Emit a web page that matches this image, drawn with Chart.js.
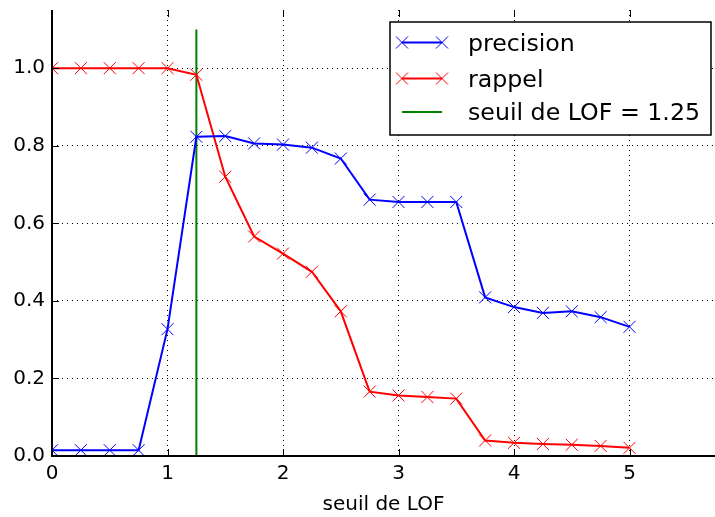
<!DOCTYPE html>
<html>
<head>
<meta charset="utf-8">
<script src="https://cdn.jsdelivr.net/npm/chart.js@4"></script>
<style>
  html, body { margin: 0; padding: 0; background: #fff; }
  #wrap { width: 715px; height: 517px; }
</style>
</head>
<body>
<div id="wrap"><canvas id="lofChart" width="715" height="517"></canvas></div>
<script>
// seuils de LOF
const seuils = [0, 0.25, 0.5, 0.75, 1, 1.25, 1.5, 1.75, 2, 2.25, 2.5, 2.75, 3, 3.25, 3.5, 3.75, 4, 4.25, 4.5, 4.75, 5];
const precision = [0.015, 0.015, 0.015, 0.015, 0.327, 0.823, 0.825, 0.806, 0.803, 0.795, 0.767, 0.661, 0.655, 0.655, 0.655, 0.409, 0.384, 0.369, 0.373, 0.358, 0.333];
const rappel = [1.0, 1.0, 1.0, 1.0, 1.0, 0.983, 0.72, 0.566, 0.522, 0.475, 0.373, 0.166, 0.156, 0.152, 0.148, 0.04, 0.034, 0.031, 0.029, 0.026, 0.021];
const seuilChoisi = 1.25;
const seuilLigneY = [0, 1.1];
const xTicks = [0, 1, 2, 3, 4, 5];
const yTicks = [0, 0.2, 0.4, 0.6, 0.8, 1.0];

const FONT = 'DejaVu Sans';

function toPoints(xs, ys) {
    return xs.map((x, i) => ({ x: x, y: ys[i] }));
}

// petits traits de graduation vers l'intérieur + légende dans le cadre
const matplotlibLook = {
    id: 'matplotlibLook',
    afterDraw(chart) {
        const ctx = chart.ctx;
        const a = chart.chartArea;
        const xs = chart.scales.x, ys = chart.scales.y;
        ctx.save();
        ctx.strokeStyle = '#000';
        ctx.lineWidth = 1;
        xTicks.forEach(t => {
            const px = Math.round(xs.getPixelForValue(t)) + 0.5;
            ctx.beginPath();
            ctx.moveTo(px, a.bottom); ctx.lineTo(px, a.bottom - 7);
            ctx.moveTo(px, a.top); ctx.lineTo(px, a.top + 7);
            ctx.stroke();
        });
        yTicks.forEach(t => {
            const py = Math.round(ys.getPixelForValue(t)) + 0.5;
            ctx.beginPath();
            ctx.moveTo(a.left, py); ctx.lineTo(a.left + 7, py);
            ctx.stroke();
        });
        // cadre
        ctx.lineWidth = 2;
        ctx.beginPath();
        ctx.moveTo(a.left, a.top); ctx.lineTo(a.left, a.bottom); ctx.lineTo(a.right, a.bottom);
        ctx.stroke();

        // légende
        const box = { x: 390, y: 22, w: 321, h: 113 };
        ctx.fillStyle = '#fff';
        ctx.fillRect(box.x, box.y, box.w, box.h);
        ctx.lineWidth = 1.5;
        ctx.strokeStyle = '#000';
        ctx.strokeRect(box.x, box.y, box.w, box.h);
        const rows = [42.5, 78.5, 112];
        chart.data.datasets.forEach((ds, i) => {
            const y = rows[i];
            const x0 = 402, x1 = 442;
            ctx.strokeStyle = ds.borderColor;
            ctx.lineWidth = ds.borderWidth;
            ctx.beginPath();
            ctx.moveTo(x0, y); ctx.lineTo(x1, y);
            ctx.stroke();
            if (ds.pointRadius > 0) {
                ctx.lineWidth = 1;
                [x0, x1].forEach(cx => {
                    const r = 6;
                    ctx.beginPath();
                    ctx.moveTo(cx - r, y - r); ctx.lineTo(cx + r, y + r);
                    ctx.moveTo(cx - r, y + r); ctx.lineTo(cx + r, y - r);
                    ctx.stroke();
                });
            }
            ctx.fillStyle = '#000';
            ctx.font = '23.7px "' + FONT + '"';
            ctx.textBaseline = 'middle';
            ctx.fillText(ds.label, 468, y + 2);
        });
        ctx.restore();
    }
};

const ctx = document.getElementById('lofChart').getContext('2d');
new Chart(ctx, {
    type: 'line',
    data: {
        datasets: [{
            label: 'precision',
            data: toPoints(seuils, precision),
            borderColor: '#0000ff',
            backgroundColor: '#0000ff',
            borderWidth: 2,
            pointStyle: 'crossRot',
            pointRadius: 8.5,
            pointBorderWidth: 1,
            pointBorderColor: '#0000ff',
            fill: false,
            tension: 0
        }, {
            label: 'rappel',
            data: toPoints(seuils, rappel),
            borderColor: '#ff0000',
            backgroundColor: '#ff0000',
            borderWidth: 2,
            pointStyle: 'crossRot',
            pointRadius: 8.5,
            pointBorderWidth: 1,
            pointBorderColor: '#ff0000',
            fill: false,
            tension: 0
        }, {
            label: 'seuil de LOF = ' + seuilChoisi,
            data: seuilLigneY.map(y => ({ x: seuilChoisi, y: y })),
            borderColor: '#008000',
            backgroundColor: '#008000',
            borderWidth: 2,
            pointRadius: 0,
            fill: false
        }]
    },
    options: {
        responsive: false,
        animation: false,
        layout: { autoPadding: false, padding: { top: 10, right: 0, left: 0, bottom: 0 } },
        plugins: {
            legend: { display: false },
            tooltip: { enabled: false }
        },
        scales: {
            x: {
                type: 'linear',
                min: 0,
                max: 5.74,
                afterBuildTicks: s => { s.ticks = xTicks.map(v => ({ value: v })); },
                afterFit: s => { s.height = 61; s.paddingLeft = 0; s.paddingRight = 0; },
                grid: { color: '#000', lineWidth: 1, drawTicks: false },
                border: { display: false, dash: [1, 4] },
                ticks: {
                    color: '#000',
                    padding: 6,
                    maxRotation: 0,
                    font: { family: FONT, size: 20 },
                    callback: v => String(v)
                },
                title: {
                    display: true,
                    text: 'seuil de LOF',
                    color: '#000',
                    padding: { top: 2, bottom: 0 },
                    font: { family: FONT, size: 20 }
                }
            },
            y: {
                min: 0,
                max: 1.15,
                afterBuildTicks: s => { s.ticks = yTicks.map(v => ({ value: v })); },
                afterFit: s => { s.width = 52; s.paddingTop = 0; s.paddingBottom = 0; },
                grid: { color: '#000', lineWidth: 1, drawTicks: false },
                border: { display: false, dash: [1, 4] },
                ticks: {
                    color: '#000',
                    padding: 7,
                    font: { family: FONT, size: 20 },
                    callback: v => v.toFixed(1)
                }
            }
        }
    },
    plugins: [matplotlibLook]
});
</script>
</body>
</html>
